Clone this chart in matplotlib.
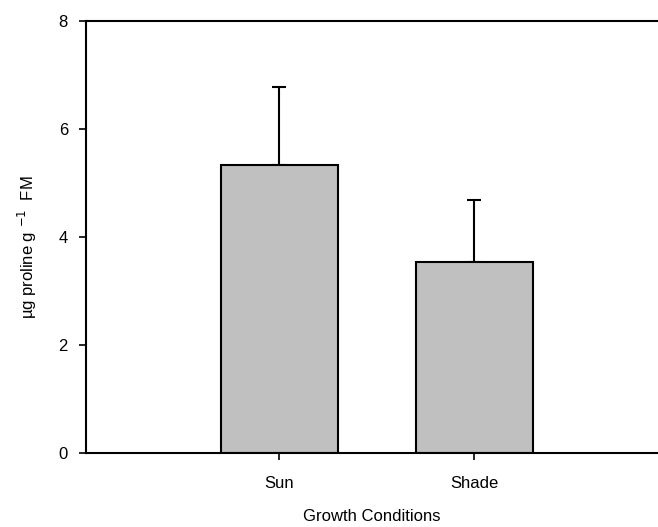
import matplotlib
matplotlib.use("Agg")
import matplotlib.pyplot as plt
import numpy as np

# data
conditions = ["Sun", "Shade"]
proline = [5.33, 3.54]
proline_err = [1.44, 1.14]

plt.rcParams["font.family"] = ["Liberation Sans", "DejaVu Sans"]

fig = plt.figure(figsize=(6.58, 5.27), dpi=100)
ax = fig.add_axes([0.1307, 0.141, 0.8693, 0.819])

x = np.arange(len(conditions))
ax.bar(x, proline, width=0.6, color="#c0c0c0", edgecolor="black", linewidth=1.5, zorder=2)
ax.errorbar(x, proline, yerr=[np.zeros(len(proline)), proline_err], fmt="none",
            ecolor="black", elinewidth=1.5, capsize=5, capthick=1.5, zorder=1)

ax.set_xlim(-0.99, 1.94)
ax.set_ylim(0, 8)
ax.set_xticks(x)
ax.set_xticklabels(conditions)
ax.set_yticks([0, 2, 4, 6, 8])
ax.tick_params(axis="both", direction="out", length=5, width=1.2, labelsize=12)
ax.tick_params(axis="y", pad=8)
ax.tick_params(axis="x", pad=12)

for side in ["left", "bottom", "top"]:
    ax.spines[side].set_linewidth(1.5)
ax.spines["right"].set_visible(False)

ax.set_xlabel("Growth Conditions", fontsize=12, labelpad=13)
ax.set_ylabel("µg proline g $^{-1}$  FM", fontsize=12, labelpad=14)
ax.yaxis.label.set_y(0.475)

fig.savefig("out.png", dpi=100)
